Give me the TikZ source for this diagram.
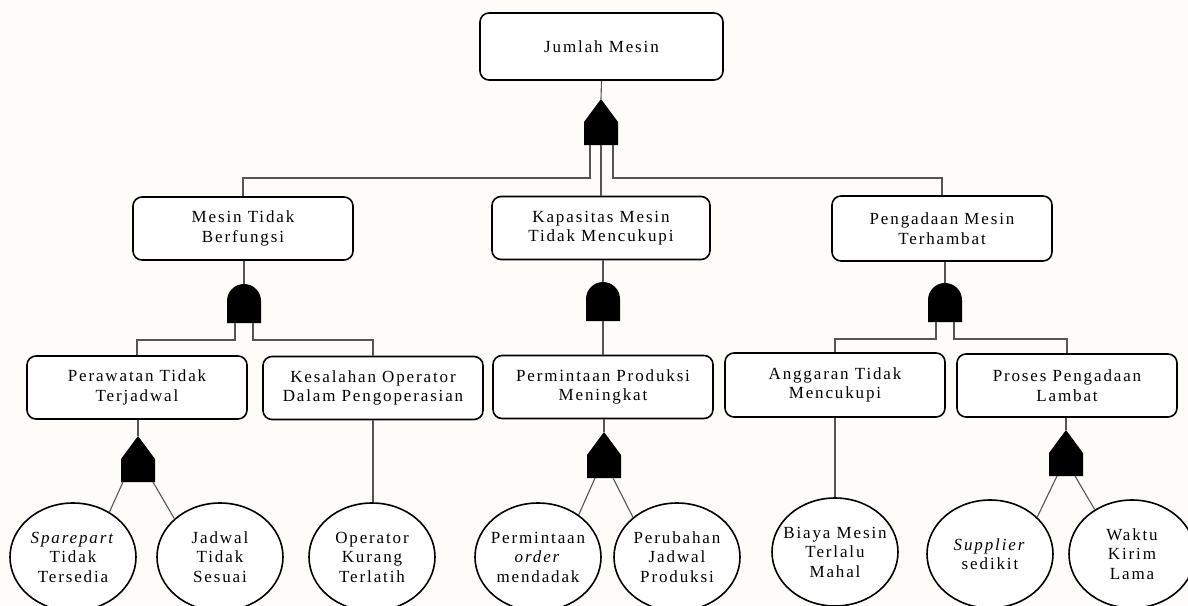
\documentclass[tikz,border=0pt]{standalone}
\usepackage{fontspec}
\setmainfont{Liberation Serif}[LetterSpace=11]
\usetikzlibrary{shapes.geometric,calc}
\definecolor{bgc}{RGB}{253,252,248}
\definecolor{wirec}{RGB}{85,85,85}
\tikzset{
  evt/.style={draw=black, line width=1.6pt, rounded corners=9pt, fill=white,
    minimum width=220pt, minimum height=63pt, align=center, inner sep=0pt,
    font=\fontsize{17}{19.5}\selectfont},
  basic/.style={ellipse, draw=black, line width=1.6pt, fill=white,
    minimum width=126pt, minimum height=108pt, align=center, inner sep=-40pt,
    font=\fontsize{17}{19.5}\selectfont},
  wire/.style={draw=wirec, line width=1.1pt},
  orgate/.pic={
    \fill (-17,0) -- (-17,23) -- (0,46) -- (17,23) -- (17,0) -- cycle;
    \coordinate (-top) at (0,46);
    \coordinate (-bc) at (0,0);
    \coordinate (-bl) at (-9,0);
    \coordinate (-br) at (9,0);
    \coordinate (-wl) at (-11,0);
    \coordinate (-wr) at (12,0);
    \coordinate (-cl) at (-15,0);
    \coordinate (-cr) at (15,0);
  },
  andgate/.pic={
    \fill (-17,0) -- (-17,22) arc[start angle=180, end angle=0, radius=17] -- (17,0) -- cycle;
    \coordinate (-top) at (0,39);
    \coordinate (-bc) at (0,0);
    \coordinate (-bl) at (-9,0);
    \coordinate (-br) at (9,0);
  }
}
\begin{document}
\begin{tikzpicture}[x=1pt,y=1pt]
\fill[bgc] (0,0) rectangle (1188,-605);
\useasboundingbox (0,0) rectangle (1188,-605);

% events
\node[evt, minimum width=243pt, minimum height=67pt] (top) at (601.5,-46.5) {Jumlah Mesin};
\node[evt] (mtb) at (243,-228.5) {Mesin Tidak\\Berfungsi};
\node[evt, minimum width=218pt] (kap) at (601,-228) {Kapasitas Mesin\\Tidak Mencukupi};
\node[evt, minimum height=65pt] (pen) at (942,-228.5) {Pengadaan Mesin\\Terhambat};
\node[evt] (per) at (137,-387.5) {Perawatan Tidak\\Terjadwal};
\node[evt] (kes) at (373,-388) {Kesalahan Operator\\Dalam Pengoperasian};
\node[evt] (pmt) at (603,-387) {Permintaan Produksi\\Meningkat};
\node[evt, minimum height=64pt] (ang) at (835,-385) {Anggaran Tidak\\Mencukupi};
\node[evt] (pro) at (1067,-385.5) {Proses Pengadaan\\Lambat};

% basic events
\node[basic] (sp)  at (73,-557)  {\textit{Sparepart}\\Tidak\\Tersedia};
\node[basic] (jts) at (220,-557) {Jadwal\\Tidak\\Sesuai};
\node[basic] (okt) at (372,-557) {Operator\\Kurang\\Terlatih};
\node[basic] (pom) at (538,-557) {Permintaan\\\textit{order}\\mendadak};
\node[basic] (pjp) at (677,-557) {Perubahan\\Jadwal\\Produksi};
\node[basic] (bmt) at (835,-552) {Biaya Mesin\\Terlalu\\Mahal};
\node[basic] (sup) at (990,-554) {\textit{Supplier}\\sedikit};
\node[basic] (wkl) at (1132,-554) {Waktu\\Kirim\\Lama};

% gates
\pic (g0) at (601,-145) {orgate};
\pic (g1) at (244,-323) {andgate};
\pic (g2) at (603,-321) {andgate};
\pic (g3) at (945,-322) {andgate};
\pic (g4) at (138,-482) {orgate};
\pic (g5) at (604,-478) {orgate};
\pic (g6) at (1066,-476) {orgate};

% junction levels
\coordinate (h0) at (0,-178);
\coordinate (h1) at (0,-340);
\coordinate (h3) at (0,-339);

% connectors
\draw[wire] (top.south) -- (g0-top);
\draw[wire] (g0-wl) |- (mtb.north |- h0) -- (mtb.north);
\draw[wire] (g0-bc) -- (kap.north);
\draw[wire] (g0-wr) |- (pen.north |- h0) -- (pen.north);

\draw[wire] (g1-top |- mtb.south) -- (g1-top);
\draw[wire] (g1-bl) |- (per.north |- h1) -- (per.north);
\draw[wire] (g1-br) |- (kes.north |- h1) -- (kes.north);

\draw[wire] (g2-top |- kap.south) -- (g2-top);
\draw[wire] (g2-bc) -- (pmt.north);

\draw[wire] (g3-top |- pen.south) -- (g3-top);
\draw[wire] (g3-bl) |- (ang.north |- h3) -- (ang.north);
\draw[wire] (g3-br) |- (pro.north |- h3) -- (pro.north);

\draw[wire] (g4-top |- per.south) -- (g4-top);
\draw[wire] (g4-cl) -- (sp.51);
\draw[wire] (g4-cr) -- (jts.140);

\draw[wire] (kes.south) -- (kes.south |- okt.north);

\draw[wire] (g5-top |- pmt.south) -- (g5-top);
\draw[wire] (g5-bl) -- (pom.46);
\draw[wire] (g5-br) -- (pjp.138);

\draw[wire] (ang.south) -- (ang.south |- bmt.north);

\draw[wire] (g6-top |- pro.south) -- (g6-top);
\draw[wire] (g6-bl) -- (sup.38);
\draw[wire] (g6-br) -- (wkl.130);
\end{tikzpicture}
\end{document}
